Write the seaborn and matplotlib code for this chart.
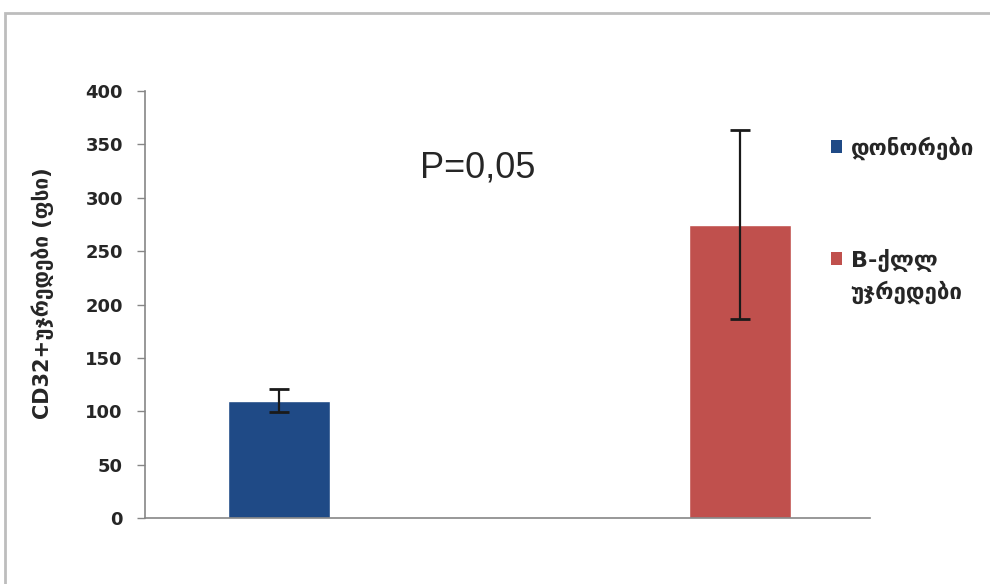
import matplotlib
matplotlib.use("Agg")
import matplotlib.pyplot as plt
from matplotlib.patches import Rectangle, Patch
import seaborn as sns

sns.set_style("ticks")
plt.rcParams['font.family'] = ['DejaVu Sans']

# data
groups = ["დონორები", "B-ქლლ\nუჯრედები"]
values = [110, 275]
errors = [11, 89]
colors = ["#1F4A86", "#C0504D"]
y_ticks = [0, 50, 100, 150, 200, 250, 300, 350, 400]

fig = plt.figure(figsize=(9.9, 5.84), dpi=100)
ax = fig.add_axes([0.1465, 0.113, 0.732, 0.731])

sns.barplot(x=groups, y=values, hue=groups, palette=colors, width=0.221,
            errorbar=None, legend=False, saturation=1, ax=ax)
ax.errorbar(x=[0, 1], y=values, yerr=errors, fmt='none', ecolor='#1a1a1a',
            elinewidth=1.6, capsize=7, capthick=2)

ax.set_xlim(-0.291, 1.282)
ax.set_ylim(0, 400)
ax.set_yticks(y_ticks)
ax.set_xticks([])
ax.tick_params(axis='y', direction='out', length=6, width=1, color='#868686',
               labelsize=13, pad=10)
for lab in ax.get_yticklabels():
    lab.set_fontweight('semibold')
sns.despine(ax=ax)
for s in ['left', 'bottom']:
    ax.spines[s].set_color('#868686')
    ax.spines[s].set_linewidth(1.2)

ax.set_ylabel("CD32+უჯრედები (ფსი)", fontsize=15, fontweight='semibold')
ax.yaxis.set_label_coords(-0.125, 0.527)
ax.set_xlabel("")

ax.text(0.459, 0.82, "P=0,05", transform=ax.transAxes, fontsize=26,
        family='Liberation Sans', ha='center', va='center')

# legend: second label wraps, marker stays on its first line
first_lines = [g.split("\n")[0] for g in groups]
handles = [Patch(facecolor=c, edgecolor='none') for c in colors]
leg = fig.legend(handles, first_lines, loc='upper left', bbox_to_anchor=(0.828, 0.786),
                 frameon=False, borderpad=0, prop={'size': 16, 'weight': 'semibold'},
                 handlelength=0.5, handleheight=0.5, handletextpad=0.4, labelspacing=4.0)

fig.canvas.draw()
inv = fig.transFigure.inverted()
for txt, g in zip(leg.get_texts(), groups):
    rest = g.split("\n")[1:]
    if rest:
        bb = txt.get_window_extent()
        x0, y0 = inv.transform((bb.x0, bb.y0 - 32))
        fig.text(x0, y0, "\n".join(rest), fontsize=16, fontweight='semibold',
                 ha='left', va='bottom')

fig.add_artist(Rectangle((0.005, -0.1), 1.2, 0.978 + 0.1, transform=fig.transFigure,
                         fill=False, edgecolor='#bdbdbd', linewidth=2))

fig.savefig("out.png", dpi=100)
